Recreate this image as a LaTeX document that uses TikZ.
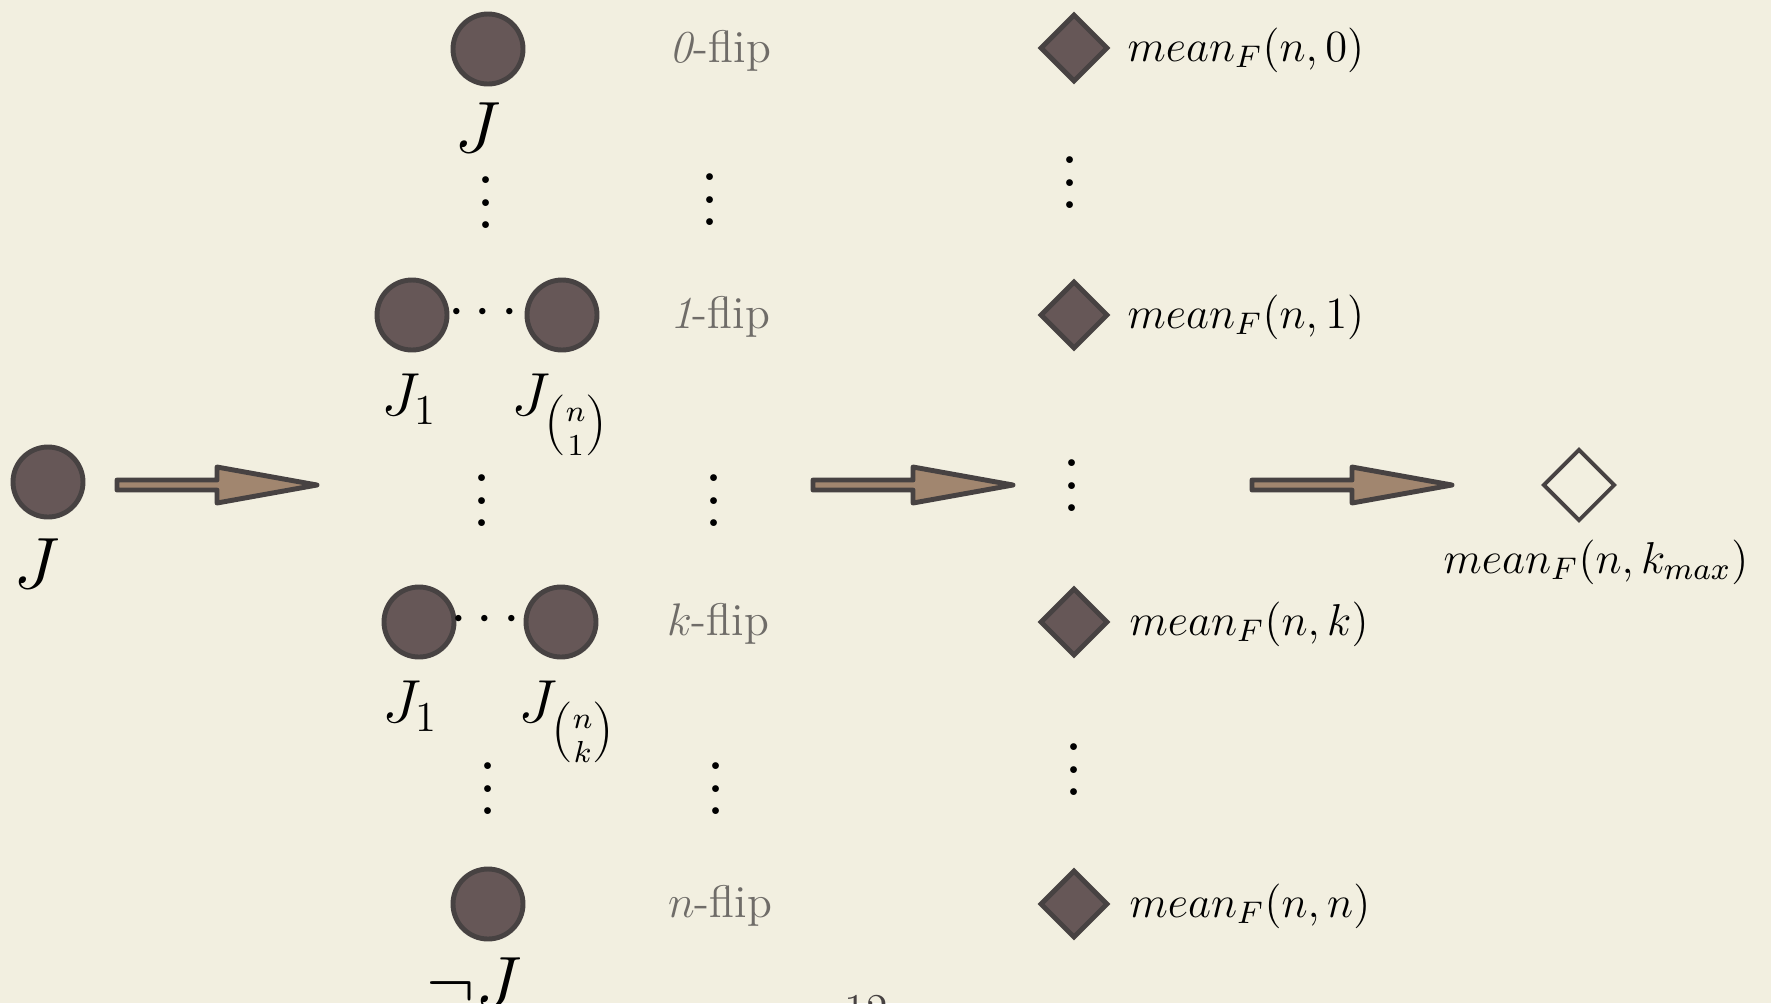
\RequirePackage{fix-cm}
\documentclass[tikz,border=0pt]{standalone}
\usepackage{amsmath,amssymb}
\usepackage{xcolor}
\usepackage{tikz}
\usetikzlibrary{positioning,shapes.geometric}
\definecolor{paper}{HTML}{F2EFE0}
\definecolor{ballbrown}{HTML}{665757}
\definecolor{rimgray}{HTML}{474242}
\definecolor{arrowtan}{HTML}{A1866F}
\definecolor{flipgray}{HTML}{6F6C68}

\begin{document}
\begin{tikzpicture}[x=0.1mm,y=-0.1mm,font=\fontsize{12.5}{15}\selectfont]

\tikzset{
ball/.style={
    circle,
    draw=rimgray,
    fill=ballbrown,
    line width=1.4pt,
    minimum size=7mm,
    inner sep=0pt
},
gem/.style={
    diamond,
    draw=rimgray,
    fill=ballbrown,
    line width=1.4pt,
    minimum size=6.8mm,
    inner sep=0pt
},
hollowgem/.style={diamond,draw=rimgray,line width=1.1pt,minimum size=7.2mm,inner sep=0pt},
biglab/.style={inner sep=0pt,font=\fontsize{20.7}{24}\selectfont},
sublab/.style={inner sep=0pt,font=\fontsize{17.3}{20}\selectfont},
fliplab/.style={text=flipgray,anchor=base,font=\fontsize{13}{16}\selectfont},
meanlab/.style={inner sep=0pt,anchor=base west,font=\fontsize{12.7}{16}\selectfont},
vdot/.style={scale=1.6,inner sep=0pt,yshift=2.5pt},
hdot/.style={inner sep=0pt,font=\fontsize{17}{20}\selectfont},
fatarrow/.style={draw=rimgray,fill=arrowtan,line width=1.4pt,line join=round}
}

\fill[paper] (0,0) rectangle (1771,1003);
\useasboundingbox (0,0) rectangle (1771,1003);

% source
\node[ball] (src) at (48,482) {};
\node[biglab,below=1.9mm of src,xshift=-1.1mm] (srclab) {$J$};

% flips of J
\node[ball] (zero) at (488,49) {};
\node[biglab,below=1.6mm of zero,xshift=-1mm] (zerolab) {$J$};

\node[ball] (one1) at (412,315) {};
\node[ball] (oneN) at (562,315) {};
\node[hdot] (onedots) at (488,313) {$\cdots$};
\node[sublab,below=2.1mm of one1,xshift=-0.3mm] (one1lab) {$J_1$};
\node[sublab,below=2.1mm of oneN,xshift=-0.2mm] (oneNlab) {$J_{\binom{n}{1}}$};

\node[ball] (k1) at (419,622) {};
\node[ball] (kN) at (561,622) {};
\node[hdot] (kdots) at (490,620) {$\cdots$};
\node[sublab,below=2.1mm of k1,xshift=-0.9mm] (k1lab) {$J_1$};
\node[sublab,below=2.1mm of kN,xshift=0.6mm] (kNlab) {$J_{\binom{n}{k}}$};

\node[ball] (all) at (488,904) {};
\node[biglab,below=1.6mm of all,xshift=-1.4mm] (alllab) {$\neg J$};

\node[vdot] (cv1) at (486,200) {$\vdots$};
\node[vdot] (cv2) at (482,498) {$\vdots$};
\node[vdot] (cv3) at (488,786) {$\vdots$};

% flip names
\node[fliplab] (f0) at (720,62) {\textit{0}-flip};
\node[fliplab] (f1) at (720,328) {\textit{1}-flip};
\node[fliplab] (fk) at (718,635) {$k$-flip};
\node[fliplab] (fn) at (720,917) {$n$-flip};

\node[vdot] (fv1) at (710,197) {$\vdots$};
\node[vdot] (fv2) at (714,498) {$\vdots$};
\node[vdot] (fv3) at (716,786) {$\vdots$};

% means
\node[gem] (g0) at (1074,48) {};
\node[gem] (g1) at (1074,315) {};
\node[gem] (gk) at (1074,622) {};
\node[gem] (gn) at (1074,904) {};
\node[meanlab] (m0) at (1127,61) {$mean_F(n,0)$};
\node[meanlab] (m1) at (1127,328) {$mean_F(n,1)$};
\node[meanlab] (mk) at (1129,635) {$mean_F(n,k)$};
\node[meanlab] (mn) at (1129,917) {$mean_F(n,n)$};

\node[vdot] (gv1) at (1070,180) {$\vdots$};
\node[vdot] (gv2) at (1072,483) {$\vdots$};
\node[vdot] (gv3) at (1074,767) {$\vdots$};

% result
\node[hollowgem] (best) at (1579,485) {};
\node[anchor=base,inner sep=0pt,font=\fontsize{12.7}{16}\selectfont] (bestlab) at (1596,573) {$mean_F(n,k_{max})$};

% big arrows
\coordinate (a1) at (117,485);
\coordinate (a2) at (813,485);
\coordinate (a3) at (1252,485);
\draw[fatarrow] (a1) ++(0,-5) -- ++(100,0) -- ++(0,-13) -- ++(100,18)
  -- ++(-100,18) -- ++(0,-13) -- ++(-100,0) -- cycle;
\draw[fatarrow] (a2) ++(0,-5) -- ++(100,0) -- ++(0,-13) -- ++(100,18)
  -- ++(-100,18) -- ++(0,-13) -- ++(-100,0) -- cycle;
\draw[fatarrow] (a3) ++(0,-5) -- ++(100,0) -- ++(0,-13) -- ++(100,18)
  -- ++(-100,18) -- ++(0,-13) -- ++(-100,0) -- cycle;

% page number, cut by the page edge
\node[anchor=north,inner sep=0pt,text=rimgray] (page) at (866,995) {12};

\end{tikzpicture}
\end{document}
